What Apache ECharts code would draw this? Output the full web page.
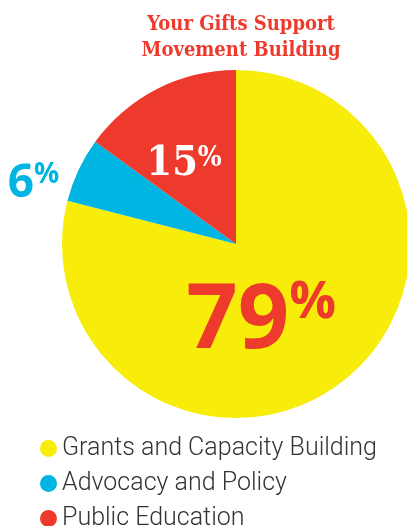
<!DOCTYPE html>
<html><head><meta charset="utf-8">
<script src="https://cdn.jsdelivr.net/npm/echarts@6/dist/echarts.min.js"></script>
<style>html,body{margin:0;padding:0;background:#fff}#c{width:407px;height:526px}</style>
</head><body><div id="c"></div>
<script>
const categories = ['Grants and Capacity Building', 'Advocacy and Policy', 'Public Education'];
const values = [79, 6, 15];
const colors = ['#F7EC0A', '#00B5E2', '#EE3A2C'];
const titleLines = ['Your Gifts Support', 'Movement Building'];

const labelStyles = [
  { num: { fontSize: 90, fontWeight: 'bold', fontFamily: 'Open Sans', color: '#EE3A2C', lineHeight: 90 },
    pct: { fontSize: 52, fontWeight: 'bold', fontFamily: 'Open Sans', color: '#EE3A2C', lineHeight: 52, verticalAlign: 'top' } },
  { num: { fontSize: 46, fontWeight: 'bold', fontFamily: 'Open Sans', color: '#00B5E2', lineHeight: 46 },
    pct: { fontSize: 28, fontWeight: 'bold', fontFamily: 'Open Sans', color: '#00B5E2', lineHeight: 28, verticalAlign: 'top' } },
  { num: { fontSize: 41, fontWeight: 'bold', fontFamily: 'DejaVu Serif Condensed', color: '#fff', lineHeight: 41 },
    pct: { fontSize: 28, fontWeight: 'bold', fontFamily: 'DejaVu Serif Condensed', color: '#fff', lineHeight: 28, verticalAlign: 'top' } }
];
const labelShift = [[-30, 7], [-121, -22], [-11, 1]];

const chart = echarts.init(document.getElementById('c'));
chart.setOption({
  animation: false,
  title: {
    text: titleLines.join('\n'), left: 236, top: 7, textAlign: 'center',
    textStyle: { fontFamily: 'DejaVu Serif Condensed', fontWeight: 'bold', fontSize: 20, lineHeight: 26, color: '#EE3A2C' }
  },
  legend: {
    orient: 'vertical', left: 35, top: 431, height: 100, icon: 'circle', itemWidth: 17, itemHeight: 17, itemGap: 10,
    data: categories,
    textStyle: { fontFamily: 'Roboto', fontWeight: 300, fontSize: 25, lineHeight: 25, color: '#333' }
  },
  series: [{
    type: 'pie', center: [236, 244], radius: 174, startAngle: 90, clockwise: true,
    silent: true,
    data: categories.map((n, i) => ({
      name: n, value: values[i], itemStyle: { color: colors[i] },
      label: {
        show: true, position: 'inside',
        formatter: '{num|' + values[i] + '}{pct|%}',
        rich: labelStyles[i]
      }
    })),
    labelLine: { show: false },
    labelLayout: p => ({ dx: labelShift[p.dataIndex][0], dy: labelShift[p.dataIndex][1] })
  }]
});
</script></body></html>
